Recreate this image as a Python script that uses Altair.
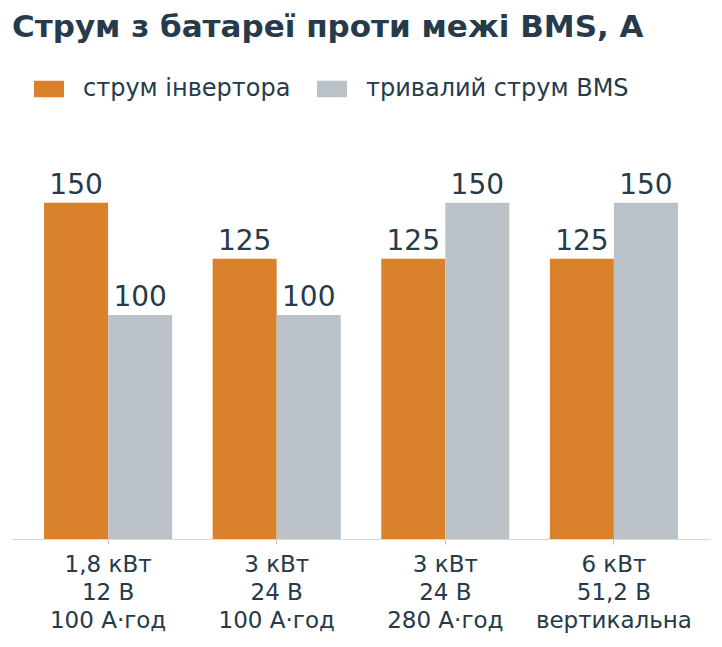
import pandas as pd
import altair as alt

categories = ["1,8 кВт|12 В|100 А·год", "3 кВт|24 В|100 А·год",
              "3 кВт|24 В|280 А·год", "6 кВт|51,2 В|вертикальна"]
inverter_current = [150, 125, 125, 125]
bms_current = [100, 100, 150, 150]
series = ["струм інвертора", "тривалий струм BMS"]
colors = ["#d9822b", "#bbc2c7"]

TEXT = "#253a4a"
FONT = "DejaVu Sans"

rows = []
for c, a, b in zip(categories, inverter_current, bms_current):
    rows.append({"cat": c, "series": series[0], "value": a})
    rows.append({"cat": c, "series": series[1], "value": b})
df = pd.DataFrame(rows)

x = alt.X("cat:N", sort=categories, title=None,
          scale=alt.Scale(paddingInner=0.24, paddingOuter=0.19),
          axis=alt.Axis(labelExpr="split(datum.label, '|')", labelAngle=0,
                        labelFontSize=23, labelColor=TEXT, labelFont=FONT,
                        labelLineHeight=28, labelPadding=9,
                        domainColor="#d9d9d9", tickColor="#bbbbbb", tickSize=5,
                        grid=False))
xo = alt.XOffset("series:N", sort=series)
y = alt.Y("value:Q", scale=alt.Scale(domain=[0, 170]), axis=None)

bars = alt.Chart(df).mark_bar(size=64).encode(
    x=x, xOffset=xo, y=y,
    color=alt.Color("series:N", sort=series,
                    scale=alt.Scale(domain=series, range=colors),
                    legend=alt.Legend(title=None, orient="none", direction="horizontal",
                                      legendX=22, legendY=-84,
                                      symbolType="M-1,-0.55H1V0.55H-1Z", symbolSize=900,
                                      symbolStrokeWidth=0, labelFontSize=24,
                                      labelColor=TEXT, labelFont=FONT, labelLimit=0,
                                      columnPadding=26, labelOffset=19))
)

labels = bars.mark_text(dy=-3, baseline="bottom", fontSize=28, font=FONT).encode(
    text="value:Q", color=alt.value(TEXT)
)

chart = (bars + labels).properties(
    width=698, height=381,
    padding={"left": 4, "top": 4, "right": 4, "bottom": 4},
    title=alt.TitleParams("Струм з батареї проти межі BMS, А", anchor="start",
                          fontSize=31, font=FONT, fontWeight="bold", color=TEXT,
                          offset=30)
).configure_view(stroke=None)

chart.save("out.html", embed_options={"renderer": "svg", "actions": False})
